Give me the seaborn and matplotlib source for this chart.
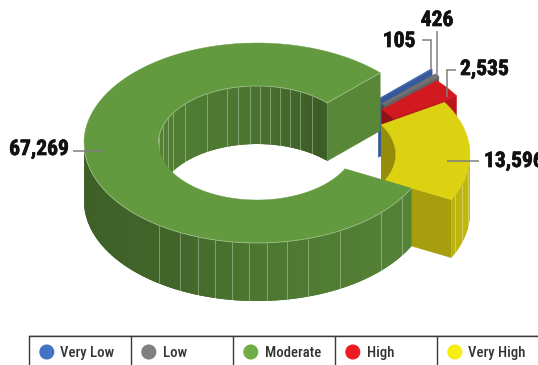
import numpy as np
import pandas as pd
import matplotlib
matplotlib.use("Agg")
import matplotlib.pyplot as plt
import matplotlib.patheffects as pe
from matplotlib.patches import Polygon
import seaborn as sns

categories = ["Very Low", "Low", "Moderate", "High", "Very High"]
values = [105, 426, 67269, 2535, 13596]
value_labels = ["105", "426", "67,269", "2,535", "13,596"]
colors = ["#4472c4", "#7f7f7f", "#70ad47", "#ed1c24", "#f7ec13"]

# Clockwise order of the ring, starting from the top-right end of the large slice
ring_order = ["Very Low", "Low", "High", "Very High"]
first_angle = 44.6

# Projection of the ring onto the canvas, in pixels
CX, CY = 257.0, 143.0
RX, RY = 173.0, 100.0
HOLE = 0.57
DEPTH = 58.0
explode_px = {"Very Low": (51, -4), "Low": (54, 0.5), "Moderate": (0, 0),
              "High": (52, 5), "Very High": (40, 11.5)}
facets = {
    "Moderate": {"outer": [235.5, 243.6, 250, 256, 261.7, 267.4, 273.3, 280, 287, 298.7, 316, 327],
                 "inner": [56, 64, 70.4, 76.5, 82.4, 88.3, 94, 101, 107.7, 120.5, 137, 148.4, 154.5, 162.4, 173.7]},
    "Very High": {"outer": [-24, -17.5, -8.9], "inner": []},
}

sns.set_theme(style="white")
plt.rcParams["font.family"] = ["Roboto Condensed", "DejaVu Sans"]

fig = plt.figure(figsize=(5.38, 3.65), dpi=100)
ax = fig.add_axes([0, 0, 1, 1])


def shaded(rgb, factor):
    return tuple(np.clip(np.array(rgb) * factor, 0, 1))


def outer_shade(t):
    return np.interp(t % 360, [180, 240, 270, 333, 360], [0.55, 0.58, 0.69, 0.76, 0.80])


def inner_shade(t):
    return np.interp(t % 360, [0, 40, 50, 95, 180], [0.60, 0.60, 0.53, 0.68, 0.76])


def ring_point(cx, cy, frac, t):
    r = np.radians(t)
    return cx + frac * RX * np.cos(r), cy - frac * RY * np.sin(r)


def visible_spans(lo, hi, start):
    spans = []
    for k in (-1, 0, 1):
        a, b = max(lo, k * 360 + start), min(hi, k * 360 + start + 180)
        if b > a:
            spans.append((a, b))
    return spans


def draw_wall(cx, cy, frac, lo, hi, rgb, shade, start, lines):
    for a, b in visible_spans(lo, hi, start):
        edges = np.linspace(a, b, max(2, int(b - a) + 2))
        for t0, t1 in zip(edges[:-1], edges[1:]):
            # Each strip runs under the next one so no seam shows between them
            t_end = min(t1 + 1.5, b)
            ts = np.linspace(t0, t_end, 4)
            rim = [ring_point(cx, cy, frac, t) for t in ts]
            foot = [(x, y + DEPTH) for x, y in rim[::-1]]
            ax.add_patch(Polygon(rim + foot, closed=True, fc=shaded(rgb, shade((t0 + t1) / 2)), ec="none"))
    for t in lines:
        x, y = ring_point(cx, cy, frac, t)
        # Same zorder as the patches, so later faces still paint over these lines
        ax.plot([x, x], [y, y + DEPTH], color="white", alpha=0.33, lw=0.7,
                solid_capstyle="butt", zorder=1)


def draw_slice(name, lo, hi, rgb):
    dx, dy = explode_px[name]
    cx, cy = CX + dx, CY + dy
    marks = facets.get(name, {"outer": [], "inner": []})

    draw_wall(cx, cy, HOLE, lo, hi, rgb, inner_shade, 0, marks["inner"])

    # The clockwise end is the only flat cut that faces the viewer
    col = shaded(rgb, np.interp(lo, [-27, 31, 45], [0.67, 0.79, 0.78]))
    a, b = ring_point(cx, cy, HOLE, lo), ring_point(cx, cy, 1, lo)
    ax.add_patch(Polygon([a, b, (b[0], b[1] + DEPTH), (a[0], a[1] + DEPTH)],
                         closed=True, fc=col, ec=col, lw=0.3))

    draw_wall(cx, cy, 1, lo, hi, rgb, outer_shade, 180, marks["outer"])

    ts = np.linspace(lo, hi, max(3, int(hi - lo) * 2))
    outer = [ring_point(cx, cy, 1, t) for t in ts]
    inner = [ring_point(cx, cy, HOLE, t) for t in ts[::-1]]
    top = shaded(rgb, 0.89)
    ax.add_patch(Polygon(outer + inner, closed=True, fc=top, ec=top, lw=0.3))

    # Thin highlight along the rim of the large slice
    if name == "Moderate":
        front = [ring_point(cx, cy, 1, t) for t in np.linspace(180, hi, 200)]
        back = [ring_point(cx, cy, HOLE, t) for t in np.linspace(lo, 180, 200)]
        cut = [ring_point(cx, cy, HOLE, lo), ring_point(cx, cy, 1, lo)]
        for path in (front, back, cut):
            ax.plot(*zip(*path), color="white", alpha=0.38, lw=0.6)


# Angular span of each slice follows its share of the total
total = sum(values)
spans = {"Moderate": (first_angle, first_angle + 360.0 * values[2] / total)}
angle = first_angle
for name in ring_order:
    sweep = 360.0 * values[categories.index(name)] / total
    spans[name] = (angle - sweep, angle)
    angle -= sweep

palette = dict(zip(categories, sns.color_palette(colors)))
for name in ring_order + ["Moderate"]:
    draw_slice(name, *spans[name], palette[name])

# Value labels with their leader lines
leader = "#7f7f7f"
label_style = {"Very Low": ((415.5, 41), "right", [(422, 40), (431, 40), (431, 70)]),
               "Low": ((437, 20), "center", [(437, 31), (437, 75)]),
               "High": ((460, 69), "left", [(456, 70), (447, 70), (447, 97)]),
               "Very High": ((484, 161), "left", [(447, 161), (479, 161)]),
               "Moderate": ((69, 149), "right", [(73, 151), (104, 151)])}
for name, text in zip(categories, value_labels):
    pos, ha, path = label_style[name]
    ax.plot(*zip(*path), color=leader, lw=1.1, solid_capstyle="butt", solid_joinstyle="miter")
    label = ax.text(*pos, text, ha=ha, va="center", fontsize=15.5, fontweight="bold", color="#111111")
    label.set_path_effects([pe.withStroke(linewidth=0.5, foreground="#111111")])

# Legend laid out as a one-row table along the bottom edge
x_left, cell_w, row_top = 28.5, 102.0, 335.5
ax.plot([x_left, 538], [row_top - 1, row_top - 1], color="#d0d0d0", lw=0.8)
ax.plot([x_left, 538], [row_top, row_top], color="#3a3a3a", lw=1.0)
for i in range(5):
    ax.plot([x_left + i * cell_w] * 2, [row_top, 365], color="#3a3a3a", lw=1.0)

legend = pd.DataFrame({"category": categories,
                       "x": [x_left + 18.3 + i * cell_w for i in range(5)],
                       "y": [352.0] * 5})
sns.scatterplot(data=legend, x="x", y="y", hue="category", palette=palette, s=118,
                linewidth=0, legend=False, ax=ax, zorder=5)
for i, name in enumerate(categories):
    ax.text(x_left + 32 + i * cell_w, 353, name, ha="left", va="center", fontsize=10.6,
            fontweight="medium", color="#333333")

ax.set_xlim(0, 538)
ax.set_ylim(365, 0)
ax.axis("off")
fig.savefig("out.png", dpi=100)
